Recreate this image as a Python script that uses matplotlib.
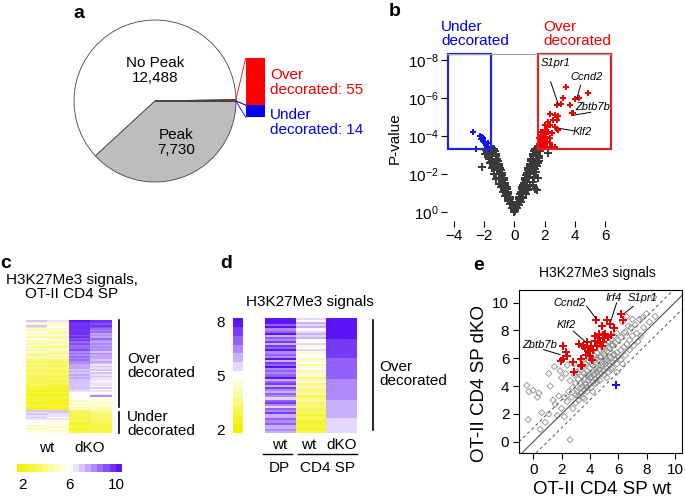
import numpy as np
import matplotlib
matplotlib.use("Agg")
import matplotlib.pyplot as plt
import matplotlib.cm as cm
from matplotlib.colors import LinearSegmentedColormap, Normalize
from matplotlib.patches import Rectangle
from matplotlib.lines import Line2D
from matplotlib.ticker import NullLocator

plt.rcParams['font.family'] = ['Liberation Sans', 'DejaVu Sans']
plt.rcParams['mathtext.fontset'] = 'custom'
plt.rcParams['mathtext.rm'] = 'Liberation Sans'
plt.rcParams['mathtext.it'] = 'Liberation Sans:italic'

# ---- panel a: peak counts
pie_labels = ["No Peak", "Peak", "Under", "Over"]
pie_counts = [12488, 7730, 14, 55]

# ---- panel b: volcano (x = fold change, nlp = -log10 P)
b_gray_x = [0.0, 0.05,
	-0.1, -0.2, -0.3, -0.4, -0.5, -0.6, -0.7, -0.8, -0.9, -1.0, -1.1, -1.2, -1.3,
	-0.15, -0.25, -0.35, -0.45, -0.55, -0.65, -0.75, -0.85, -0.95, -1.05, -1.15, -1.25, -1.35, -1.45, -1.55, -1.6,
	-0.3, -0.45, -0.6, -0.75, -0.9, -1.05, -1.2, -1.35, -1.5, -1.6, -1.7, -1.8, -1.9,
	-2.15, -1.95, -1.75, -1.45,
	-0.05, -0.12, -0.22, -0.32, -0.42, -0.52, -0.62, -0.72, -0.82, -0.92, -1.02, -1.12, -1.22, -1.35, -1.5,
	-1.65, -1.75, -1.4, -1.55,
	0.1, 0.2, 0.3, 0.4, 0.5, 0.6, 0.7, 0.8, 0.9, 1.0, 1.1, 1.2, 1.3,
	0.15, 0.25, 0.35, 0.45, 0.55, 0.65, 0.75, 0.85, 0.95, 1.05, 1.15, 1.25, 1.35, 1.45, 1.5, 1.55,
	0.3, 0.45, 0.6, 0.75, 0.9, 1.05, 1.2, 1.3, 1.4, 1.5, 1.6, 1.65,
	1.47, 1.36, 2.2, 1.7, 1.25, 1.55,
	0.05, 0.12, 0.22, 0.32, 0.42, 0.52, 0.62, 0.72, 0.82, 0.92, 1.02, 1.12, 1.22, 1.35, 1.45,
	1.55, 1.6, 1.35, 1.45]
b_gray_nlp = [0.02, 0.05,
	0.2, 0.45, 0.7, 0.95, 1.2, 1.45, 1.7, 1.95, 2.2, 2.45, 2.7, 2.95, 3.2,
	0.2, 0.4, 0.6, 0.8, 1.0, 1.2, 1.4, 1.6, 1.8, 2.0, 2.2, 2.4, 2.6, 2.8, 3.0, 3.2,
	0.4, 0.6, 0.85, 1.05, 1.3, 1.5, 1.75, 2.0, 2.3, 2.6, 2.9, 3.15, 3.25,
	2.37, 3.05, 3.3, 3.25,
	0.1, 0.3, 0.55, 0.8, 1.05, 1.3, 1.55, 1.8, 2.05, 2.3, 2.55, 2.8, 3.05, 3.3, 3.3,
	2.8, 3.05, 2.45, 2.65,
	0.2, 0.45, 0.7, 0.95, 1.2, 1.45, 1.7, 1.95, 2.2, 2.45, 2.7, 2.95, 3.2,
	0.2, 0.4, 0.6, 0.8, 1.0, 1.2, 1.4, 1.6, 1.8, 2.0, 2.2, 2.4, 2.6, 2.8, 3.0, 3.2,
	0.35, 0.55, 0.75, 0.95, 1.15, 1.35, 1.6, 1.85, 2.1, 2.4, 2.7, 2.95,
	1.16, 1.2, 3.1, 3.25, 1.4, 1.8,
	0.1, 0.3, 0.55, 0.8, 1.05, 1.3, 1.55, 1.8, 2.05, 2.3, 2.55, 2.8, 3.05, 3.3, 3.25,
	2.6, 2.85, 2.25, 2.5]
b_red_x = [4.85, 4.3, 4.02, 3.68, 3.8, 3.9, 3.42, 3.24, 3.06, 2.84, 2.69, 2.91, 2.36, 2.58, 2.8,
	2.25, 2.36, 2.69, 2.91, 2.14, 2.03, 2.25, 2.47, 1.92, 2.1, 2.36, 1.81, 1.96, 1.7, 2.18,
	1.87, 1.7, 2.03, 1.65, 2.36, 2.69, 1.81, 2.14, 2.84, 1.6, 1.75, 2.0, 1.62, 2.5, 1.9,
	1.62, 1.75, 1.85, 1.68, 1.95]
b_red_nlp = [6.25, 5.98, 5.93, 5.63, 5.19, 5.19, 6.56, 5.98, 5.7, 5.65, 5.12, 5.08, 5.17, 4.85, 4.85,
	4.76, 4.58, 4.5, 4.32, 4.5, 4.32, 4.23, 4.15, 4.05, 3.97, 3.88, 3.88, 3.79, 3.7, 3.7,
	3.58, 3.47, 3.53, 3.35, 3.62, 3.44, 3.35, 3.4, 4.35, 3.5, 4.2, 4.6, 3.9, 3.4, 3.3,
	3.6, 3.45, 3.75, 3.95, 4.15]
b_blue_x = [-2.76, -2.28, -2.17, -2.05, -2.21, -2.1, -1.99, -1.95, -1.88, -1.84, -1.72, -1.77, -2.54, -1.66]
b_blue_nlp = [4.23, 4.0, 3.93, 3.88, 3.83, 3.79, 3.7, 3.61, 3.53, 3.44, 3.4, 3.65, 3.32, 3.33]

# ---- panel c: H3K27Me3 signals, 55 over + 14 under decorated genes
c_wt1 = [7.0, 4.8, 5.6, 6.8, 6.5, 5.2, 4.6, 5.7, 4.9, 5.4, 4.4, 5.8, 4.7, 5.1, 4.3, 5.5, 4.5, 4.9, 4.2, 5.3,
	4.6, 4.0, 5.0, 4.4, 3.9, 3.5, 4.1, 3.7, 3.3, 3.9, 3.6, 3.2, 3.8, 3.4, 3.1, 3.6, 3.3, 3.0, 3.5, 3.2,
	2.9, 2.6, 2.8, 2.4, 2.7, 2.5, 2.3, 2.8, 2.4, 2.6, 2.2, 2.5, 2.7, 2.3, 2.4,
	7.2, 6.6, 6.9, 6.3, 6.8, 6.5, 5.8, 5.4, 6.0, 5.2, 5.6, 5.0, 5.5, 5.3]
c_wt2 = [6.4, 5.3, 5.0, 5.5, 6.2, 4.9, 5.6, 4.6, 5.2, 5.7, 4.5, 5.0, 5.4, 4.3, 4.8, 5.2, 4.1, 4.7, 5.0, 4.4,
	4.0, 4.8, 4.2, 4.5, 3.8, 3.4, 3.9, 3.6, 3.2, 3.7, 3.4, 3.0, 3.6, 3.3, 2.9, 3.5, 3.1, 2.8, 3.4, 3.0,
	2.8, 2.5, 2.7, 2.3, 2.6, 2.4, 2.2, 2.7, 2.3, 2.5, 2.1, 2.4, 2.6, 2.2, 2.3,
	6.8, 7.0, 6.4, 6.7, 6.2, 6.6, 5.6, 5.9, 5.3, 5.7, 5.1, 5.4, 5.2, 5.6]
c_dko1 = [10.0, 9.9, 9.8, 9.9, 9.7, 9.6, 9.8, 9.5, 9.6, 9.4, 9.7, 9.3, 9.5,
	8.9, 9.1, 8.6, 8.8, 8.4, 9.0, 8.3, 8.7, 8.2, 8.5, 8.0, 8.6, 8.1, 8.3,
	7.8, 7.5, 7.7, 7.2, 7.6, 7.0, 7.4, 7.1, 7.5, 6.9, 7.3, 6.8, 7.2, 7.0, 6.9, 7.1,
	6.3, 6.1, 5.9, 6.2, 5.8, 5.5, 5.2, 5.4, 5.0, 5.3, 4.9, 5.1,
	3.4, 3.0, 3.6, 2.8, 3.2, 2.6, 3.3, 2.9, 2.5, 3.1, 2.7, 2.4, 2.8, 2.6]
c_dko2 = [9.8, 9.6, 9.4, 9.7, 9.2,
	8.4, 8.0, 8.6, 7.8, 8.2, 7.6, 8.5, 7.9, 7.4, 8.1, 7.7, 8.3, 7.5, 7.9, 7.3, 8.0, 7.6, 7.4, 7.8, 7.2, 7.5,
	7.0, 6.6, 7.1, 6.4, 6.8, 6.2, 6.9, 6.5, 7.2, 6.3, 6.7, 6.1, 6.6, 6.4, 6.0, 6.8, 6.2, 6.5, 6.1, 6.3,
	8.2, 5.6, 5.3, 5.5, 5.1, 5.4, 5.0, 5.2, 4.9,
	4.2, 3.6, 3.9, 3.3, 3.7, 3.1, 3.5, 3.2, 2.9, 3.4, 3.0, 2.7, 3.1, 2.8]

# ---- panel d: over decorated genes in DP wt, CD4 SP wt, CD4 SP dKO
d_dp_wt = [8.0, 8.0, 7.9, 6.8, 7.9, 6.5, 7.0, 7.8, 6.2, 6.9, 6.6, 7.6, 6.0, 7.3, 6.8, 7.9, 6.4, 7.1, 6.7, 7.9,
	6.1, 7.5, 6.9, 7.8, 6.3, 7.2, 6.5, 7.0, 7.9, 6.2, 6.8, 7.4, 6.0, 7.7, 6.6, 5.8, 7.1, 6.4, 5.6, 6.9,
	7.6, 6.3, 5.7, 7.0, 6.5, 7.3, 6.1, 5.9, 6.8, 6.4, 7.2, 6.0, 5.8, 6.6, 6.2]
d_sp_wt = [5.6, 5.2, 5.9, 5.4, 6.0, 5.1, 5.7, 6.1, 5.3, 5.8, 4.8, 5.2, 5.7, 4.6, 5.0, 5.3, 4.4, 4.9, 5.1, 4.2,
	4.7, 4.9, 4.0, 4.5, 4.8, 3.8, 4.3, 4.6, 3.6, 4.1, 4.4, 3.5, 3.9, 4.2, 3.3, 3.7, 4.0, 3.1, 3.5, 3.8,
	2.9, 3.3, 3.6, 2.8, 3.1, 3.4, 2.6, 2.9, 3.2, 2.5, 2.7, 3.0, 2.4, 2.6, 2.8]
d_sp_dko = [8.0, 8.0, 8.0, 8.0, 8.0, 8.0, 8.0, 8.0, 8.0, 8.0,
	7.5, 7.5, 7.5, 7.5, 7.5, 7.5, 7.5, 7.5, 7.5,
	7.0, 7.0, 7.0, 7.0, 7.0, 7.0, 7.0, 7.0, 7.0, 7.0,
	6.5, 6.5, 6.5, 6.5, 6.5, 6.5, 6.5, 6.5, 6.5, 6.5,
	6.0, 6.0, 6.0, 6.0, 6.0, 6.0, 6.0, 6.0, 6.0,
	5.6, 5.6, 5.6, 5.6, 5.6, 5.6, 5.6]

# ---- panel e: wt vs dKO signals
e_gray_x = [3.0, 3.1, 3.2, 3.3, 3.4, 3.5, 3.6, 3.7, 3.8, 3.9, 4.0, 4.1, 4.2, 4.3, 4.4, 4.5, 4.6, 4.7, 4.8, 4.9,
	5.0, 5.1, 5.2, 5.3, 5.4, 5.5, 5.6, 5.7, 5.8, 5.9, 6.0, 6.2, 6.4, 6.6, 6.8, 7.0,
	2.8, 3.0, 3.2, 3.4, 3.6, 3.8, 4.0, 4.2, 4.4, 4.6, 4.8, 5.0, 5.2, 5.4, 5.6, 5.8, 6.0, 6.2, 6.4,
	2.6, 2.9, 3.1, 3.3, 3.5, 3.7, 3.9, 4.1, 4.3, 4.5, 4.7, 4.9, 5.1, 5.3, 5.5, 5.7, 5.9,
	3.2, 3.5, 3.8, 4.1, 4.4, 4.7, 5.0, 5.3, 5.6, 5.9, 6.2, 6.5, 6.8, 7.1, 7.4,
	-0.45, -0.3, 0.0, 0.4, 0.3, -0.35, 0.5, 0.85, 1.1, 1.55, 2.0, 2.6, 1.2, 1.5, 1.1, 1.4, 1.8, 2.2, 2.4, 2.0,
	2.3, 2.5, 2.7, 2.8, 1.7, 2.2, 0.6, 3.0, 6.5, 6.9, 7.2, 7.5, 7.7, 8.0, 8.5, 7.3, 7.8, 8.2, 6.7, 7.0,
	6.3, 6.6, 7.6, 8.6, 5.2, 5.9, 6.3, 2.9, 3.4, 1.9, 2.4, 4.2, 3.6,
	3.3, 3.6, 3.9, 4.2, 4.5, 4.8, 5.1, 5.4, 5.7, 4.0, 4.3, 4.6, 4.9, 5.2, 3.7, 3.4, 4.1, 4.4, 4.7, 5.0,
	5.3, 5.6, 3.8, 4.5, 5.5]
e_gray_y = [3.4, 3.6, 3.3, 3.8, 3.5, 4.0, 3.7, 4.2, 3.9, 4.4, 4.1, 4.6, 4.3, 4.8, 4.5, 5.0, 4.7, 5.2, 4.9, 5.4,
	5.1, 5.6, 5.3, 5.8, 5.5, 6.0, 5.7, 6.2, 5.9, 6.4, 6.1, 6.6, 6.8, 7.0, 7.3, 7.6,
	3.9, 4.2, 4.5, 4.7, 4.9, 5.1, 5.3, 5.5, 5.7, 5.9, 6.1, 6.3, 6.5, 6.7, 6.9, 7.1, 7.3, 7.5, 7.8,
	4.4, 4.8, 5.0, 5.2, 5.4, 5.6, 5.8, 6.0, 6.2, 6.4, 6.6, 6.8, 7.0, 7.2, 7.4, 7.6, 7.8,
	3.0, 3.2, 3.6, 3.9, 4.2, 4.4, 4.8, 5.0, 5.3, 5.6, 5.9, 6.2, 6.6, 6.9, 7.2,
	4.05, 3.6, 3.7, 3.5, 3.2, 1.6, 0.9, 1.4, 2.0, 2.7, 2.4, 0.15, 4.0, 5.4, 4.9, 3.0, 3.3, 3.2, 2.9, 4.6,
	4.9, 3.6, 3.2, 2.4, 1.9, 1.8, 2.1, 2.8, 7.9, 8.2, 8.4, 8.8, 8.9, 9.2, 10.4, 7.8, 8.2, 8.6, 8.3, 8.8,
	8.6, 9.0, 7.6, 9.0, 4.6, 5.0, 5.6, 5.6, 5.9, 5.1, 5.5, 3.6, 3.1,
	4.2, 4.5, 4.7, 5.0, 5.3, 5.5, 5.8, 6.1, 6.3, 4.6, 4.9, 5.2, 5.6, 5.9, 4.1, 3.9, 5.6, 5.9, 6.1, 6.5,
	6.8, 7.0, 4.8, 4.3, 5.2]
e_red_x = [6.17, 6.36, 4.44, 5.19, 5.42, 4.88, 5.73, 4.67, 4.9, 5.07, 5.49, 5.26, 4.6, 4.37, 4.72, 4.96,
	4.49, 4.84, 3.78, 3.26, 3.54, 4.08, 3.94, 4.25, 3.71, 4.01, 3.85, 2.09, 2.3, 2.37, 2.09, 1.97,
	3.36, 3.43, 3.36, 2.84, 2.91, 4.18, 3.66, 4.37, 4.97]
e_red_y = [9.2, 8.78, 8.73, 8.78, 8.47, 8.31, 8.19, 7.74, 7.7, 7.76, 7.7, 7.53, 7.46, 7.22, 7.1, 7.17,
	6.86, 6.86, 7.15, 7.05, 6.86, 6.86, 6.55, 6.62, 6.26, 6.14, 6.5, 6.86, 6.43, 6.19, 5.97, 5.78,
	5.97, 5.54, 5.47, 5.73, 5.01, 5.9, 6.74, 7.58, 7.46]
e_blue_x = [5.85]
e_blue_y = [4.05]

W, H = 685, 501
RED = '#ee0000'
BLUE = '#0000ee'

def box(l, t, r, b):
	return [l / W, 1 - b / H, (r - l) / W, (b - t) / H]

fig = plt.figure(figsize=(W / 100, H / 100), dpi=100)

def ftext(x, y, s, **kw):
	fig.text(x / W, 1 - y / H, s, **kw)

def fline(xs, ys, **kw):
	fig.add_artist(Line2D([x / W for x in xs], [1 - y / H for y in ys], **kw))

# panel letters
for lab, x, y in [("a", 79, 14), ("b", 395, 12), ("c", 6, 263), ("d", 226, 263), ("e", 479, 265)]:
	ftext(x, y, lab, fontsize=14, fontweight='bold', ha='center', va='center')

# ---------------- a
ax = fig.add_axes(box(74, 20, 300, 182))
wedges, _ = ax.pie(pie_counts, colors=['white', '#bdbdbd', BLUE, RED], startangle=1,
	counterclock=True, radius=1, wedgeprops=dict(edgecolor='#444444', linewidth=0.6))
ax.set_xlim(-1, 1.79)
ax.set_ylim(-1, 1)
ax.set_aspect('auto')
ax.axis('off')
unit = 0.0106
bar_left, bar_w, bottom = 1.12, 0.24, -0.2
hb = pie_counts[2] * unit
hr = pie_counts[3] * unit
ax.bar(bar_left, hb, width=bar_w, bottom=bottom, align='edge', color='#0000ff', clip_on=False)
ax.bar(bar_left, hr, width=bar_w, bottom=bottom + hb, align='edge', color='#ff0000', clip_on=False)
for w, y0, y1, col in [(wedges[3], bottom + hb, bottom + hb + hr, '#ff0000'), (wedges[2], bottom, bottom + hb, '#0000ff')]:
	a1, a2 = np.radians(w.theta1), np.radians(w.theta2)
	ax.plot([np.cos(a2), bar_left], [np.sin(a2), y1], color=col, lw=0.6, clip_on=False)
	ax.plot([np.cos(a1), bar_left], [np.sin(a1), y0], color=col, lw=0.6, clip_on=False)
ax.text(0, 0.38, "No Peak\n%s" % format(pie_counts[0], ','), ha='center', va='center', fontsize=11, linespacing=1.1)
ax.text(0.26, -0.51, "Peak\n%s" % format(pie_counts[1], ','), ha='center', va='center', fontsize=11, linespacing=1.1)
ax.text(1.42, 0.23, "Over\ndecorated: %d" % pie_counts[3], color=RED, ha='left', va='center', fontsize=11, linespacing=1.1)
ax.text(1.42, -0.27, "Under\ndecorated: %d" % pie_counts[2], color=BLUE, ha='left', va='center', fontsize=11, linespacing=1.1)

# ---------------- b
ax = fig.add_axes(box(447, 54, 612, 221))
ax.set_yscale('log')
ax.scatter(b_gray_x, 10.0 ** -np.array(b_gray_nlp), marker='P', s=26, color='#3a3a3a', linewidths=0)
ax.scatter(b_red_x, 10.0 ** -np.array(b_red_nlp), marker='P', s=18, color='#f00000', linewidths=0)
ax.scatter(b_blue_x, 10.0 ** -np.array(b_blue_nlp), marker='P', s=18, color='#1010ee', linewidths=0)
ax.set_xlim(-4.46, 6.46)
ax.set_ylim(10 ** 0.47, 10 ** -8.32)
ax.add_patch(Rectangle((-4.4, 10 ** -8.3), 2.85, 10 ** -3.3 - 10 ** -8.3, fill=False, ec='#2323d8', lw=1.6, clip_on=False))
ax.add_patch(Rectangle((1.55, 10 ** -8.3), 4.87, 10 ** -3.3 - 10 ** -8.3, fill=False, ec='#d42424', lw=1.6, clip_on=False))
for sp in ['left', 'bottom', 'right']:
	ax.spines[sp].set_visible(False)
ax.spines['top'].set_color('#a0a0a0')
ax.set_yticks([1, 1e-2, 1e-4, 1e-6, 1e-8])
ax.yaxis.set_minor_locator(NullLocator())
ax.set_xticks([-4, -2, 0, 2, 4, 6])
ax.tick_params(labelsize=11, length=4, width=0.8, pad=2)
for g, tx, ty, lx0, ly0, lx1, ly1 in [("S1pr1", 2.76, 7.84, 2.4, 6.86, 2.92, 5.63),
		("Ccnd2", 4.77, 7.1, 4.39, 6.68, 4.13, 5.98),
		("Zbtb7b", 5.17, 5.53, 5.05, 5.25, 3.9, 5.1),
		("Klf2", 4.48, 4.23, 3.9, 4.28, 3.02, 4.4)]:
	ax.text(tx, 10.0 ** -ty, g, style='italic', fontsize=8, ha='center', va='center')
	ax.plot([lx0, lx1], [10.0 ** -ly0, 10.0 ** -ly1], color='black', lw=0.7)
ftext(441, 34, "Under\ndecorated", color=BLUE, fontsize=11, ha='left', va='center', linespacing=1.05)
ftext(543, 34, "Over\ndecorated", color=RED, fontsize=11, ha='left', va='center', linespacing=1.05)
ftext(395, 138, "P-value", rotation=90, fontsize=11, ha='center', va='center')

# ---------------- c
cmap_c = LinearSegmentedColormap.from_list('c', ['#f2f200', '#ffffff', '#5c14f5'], N=17)
norm_c = Normalize(1.5, 10.5)
ax = fig.add_axes(box(26, 320, 112, 433))
ax.imshow(np.column_stack([c_wt1, c_wt2, c_dko1, c_dko2]), aspect='auto', cmap=cmap_c, norm=norm_c, interpolation='nearest')
ax.axis('off')
cax = fig.add_axes(box(17, 464, 122, 472))
cb = fig.colorbar(cm.ScalarMappable(norm=norm_c, cmap=cmap_c), cax=cax, orientation='horizontal', ticks=[2, 6, 10])
cb.outline.set_visible(False)
cax.tick_params(length=0, labelsize=11, pad=4)
fline([119, 119], [320, 407], color='black', lw=1.2)
fline([119, 119], [412, 433], color='black', lw=1.2)
ftext(127, 366, "Over\ndecorated", fontsize=11, ha='left', va='center', linespacing=1.0)
ftext(127, 424, "Under\ndecorated", fontsize=11, ha='left', va='center', linespacing=1.0)
ftext(72, 287, "H3K27Me3 signals,\nOT-II CD4 SP", fontsize=11, ha='center', va='center', linespacing=0.95)
ftext(47, 448, "wt", fontsize=11, ha='center', va='center')
ftext(90, 448, "dKO", fontsize=11, ha='center', va='center')

# ---------------- d
cmap_d = LinearSegmentedColormap.from_list('d', ['#f2f200', '#ffffff', '#5c14f5'], N=13)
norm_d = Normalize(1.8, 8.2)
ax = fig.add_axes(box(265, 318, 356, 433))
ax.imshow(np.column_stack([d_dp_wt, d_sp_wt, d_sp_dko]), aspect='auto', cmap=cmap_d, norm=norm_d, interpolation='nearest')
ax.axis('off')
cax = fig.add_axes(box(233, 318, 243, 433))
cb = fig.colorbar(cm.ScalarMappable(norm=norm_d, cmap=cmap_d), cax=cax, orientation='vertical', ticks=[2, 5, 8])
cb.outline.set_visible(False)
cax.yaxis.set_ticks_position('left')
cax.tick_params(length=0, labelsize=11, pad=6)
fline([373, 373], [320, 430], color='black', lw=1.2)
ftext(379, 374, "Over\ndecorated", fontsize=11, ha='left', va='center', linespacing=1.0)
ftext(310, 302, "H3K27Me3 signals", fontsize=11, ha='center', va='center')
ftext(280, 445, "wt", fontsize=11, ha='center', va='center')
ftext(309, 445, "wt", fontsize=11, ha='center', va='center')
ftext(342, 445, "dKO", fontsize=11, ha='center', va='center')
fline([263, 292], [454, 454], color='black', lw=1.0)
fline([298, 357], [454, 454], color='black', lw=1.0)
ftext(279, 468, "DP", fontsize=11, ha='center', va='center')
ftext(327, 468, "CD4 SP", fontsize=11, ha='center', va='center')

# ---------------- e
ax = fig.add_axes(box(519, 290, 682, 453))
ax.axline((0, 0), slope=1, color='#505050', lw=0.8)
ax.axline((0, 1), slope=1, color='#505050', lw=0.7, ls=(0, (3, 3)))
ax.axline((0, -1), slope=1, color='#505050', lw=0.7, ls=(0, (3, 3)))
ax.scatter(e_gray_x, e_gray_y, marker='D', s=10, facecolors='none', edgecolors='#8f8f8f', linewidths=0.6)
ax.scatter(e_red_x, e_red_y, marker='P', s=38, color='#e40000', linewidths=0)
ax.scatter(e_blue_x, e_blue_y, marker='P', s=26, color='#1515e0', linewidths=0)
ax.set_xlim(-1.0, 10.5)
ax.set_ylim(-0.8, 10.9)
ax.set_xticks([0, 2, 4, 6, 8, 10])
ax.set_yticks([0, 2, 4, 6, 8, 10])
ax.tick_params(labelsize=11, length=4, width=0.8, pad=3)
for sp in ax.spines.values():
	sp.set_linewidth(0.8)
for g, tx, ty, lx0, ly0, lx1, ly1 in [("Ccnd2", 2.6, 10.0, 3.78, 9.73, 4.49, 8.78),
		("Irf4", 5.67, 10.36, 5.89, 9.98, 5.47, 8.66),
		("S1pr1", 7.71, 10.36, 7.06, 9.73, 6.48, 9.26),
		("Klf2", 2.36, 8.4, 2.84, 7.94, 3.78, 7.1),
		("Zbtb7b", 0.46, 6.98, 0.73, 6.62, 1.9, 6.26)]:
	ax.text(tx, ty, g, style='italic', fontsize=8, ha='center', va='center')
	ax.plot([lx0, lx1], [ly0, ly1], color='black', lw=0.7)
ftext(597, 273, "H3K27Me3 signals", fontsize=10, ha='center', va='center')
ftext(602, 489, "OT-II CD4 SP wt", fontsize=13.5, ha='center', va='center')
ftext(479, 383, "OT-II CD4 SP dKO", fontsize=13.5, rotation=90, ha='center', va='center')

fig.savefig("out.png", dpi=100)
